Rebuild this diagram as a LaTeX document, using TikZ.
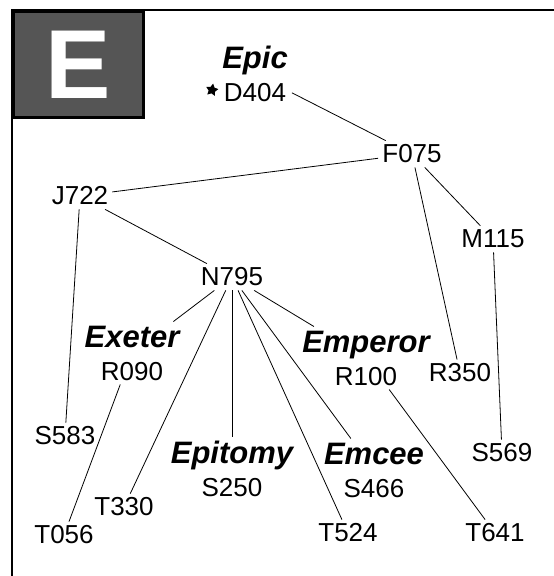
\documentclass[tikz,border=0pt]{standalone}
\usepackage{fontspec}
\setmainfont{Liberation Sans}
\usetikzlibrary{shapes.geometric}
\definecolor{boxgray}{HTML}{555555}
\newcommand{\wordname}[1]{{\bfseries\itshape\fontsize{31}{33}\selectfont #1}}

\begin{document}
\begin{tikzpicture}[x=1pt, y=-1pt, inner sep=4pt,
    code/.style={font=\fontsize{26}{33}\selectfont},
    word/.style={code, align=center},
    link/.style={line width=0.8pt}]
  \useasboundingbox (0,0) rectangle (554,576);
  % frame and letter box
  \draw[line width=2.8pt] (554,10) -- (12,10) -- (12,576);
  \node[draw, line width=2.8pt, fill=boxgray, anchor=north west, minimum width=130pt, minimum height=106pt,
        text=white, font=\fontsize{98}{98}\selectfont\bfseries] (letter) at (12,10) {E};
  % grouped words
  \node[word] (epic) at (255,74) {\wordname{Epic}\\D404};
  \node[star, star points=5, star point ratio=1.9, fill, inner sep=0pt, minimum size=13pt, rotate=-10] (mark) at (212,90) {};
  \node[word] (exeter) at (132,353) {\wordname{Exeter}\\R090};
  \node[word] (emperor) at (366,358) {\wordname{Emperor}\\R100};
  \node[word] (epitomy) at (232,469) {\wordname{Epitomy}\\S250};
  \node[word] (emcee) at (374,470) {\wordname{Emcee}\\S466};
  % single codes
  \node[code] (f075) at (412,154) {F075};
  \node[code] (j722) at (80,196) {J722};
  \node[code] (m115) at (493,239) {M115};
  \node[code] (n795) at (232,277) {N795};
  \node[code] (r350) at (460,373) {R350};
  \node[code] (s569) at (502,453) {S569};
  \node[code] (s583) at (65,436) {S583};
  \node[code] (t330) at (124,507) {T330};
  \node[code] (t524) at (348,533) {T524};
  \node[code] (t641) at (495,533) {T641};
  \node[code] (t056) at (64,535) {T056};
  % links
  \foreach \a/\b in {epic/f075, f075/j722, f075/r350, f075/m115, m115/s569, j722/n795, j722/s583,
      n795/exeter, n795/t330, n795/epitomy, n795/t524, n795/emcee, n795/emperor,
      exeter/t056, emperor/t641}
    \draw[link] (\a) -- (\b);
\end{tikzpicture}
\end{document}
